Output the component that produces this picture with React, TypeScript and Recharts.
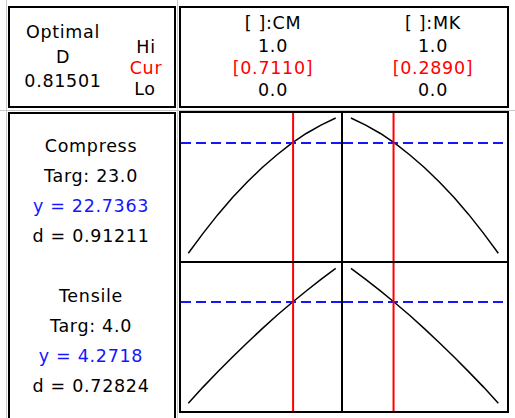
import { LineChart, Line, XAxis, YAxis, ReferenceLine } from 'recharts';

// optimizer settings
const factorNames = ['[ ]:CM', '[ ]:MK'];
const factorHigh = [1.0, 1.0];
const factorCurrent = [0.711, 0.289];
const factorLow = [0.0, 0.0];

const responseNames = ['Compress', 'Tensile'];
const responseTargets = [23.0, 4.0];
const responsePredicted = [22.7363, 4.2718];
const responseDesirability = [0.91211, 0.72824];
const compositeD = 0.81501;

// mixture levels along each factor axis
const mixLevels = [0, 0.1, 0.2, 0.3, 0.4, 0.5, 0.6, 0.7, 0.8, 0.9, 1.0];

// response traces
const compressCM = [17.2, 18.2, 19.14, 20.0, 20.78, 21.5, 22.14, 22.72, 23.22, 23.64, 24.0];
const compressMK = [24.0, 23.64, 23.22, 22.72, 22.14, 21.5, 20.78, 20.0, 19.14, 18.2, 17.2];
const tensileCM = [2.08, 2.43, 2.76, 3.08, 3.39, 3.69, 3.98, 4.25, 4.51, 4.76, 5.0];
const tensileMK = [5.0, 4.76, 4.51, 4.25, 3.98, 3.69, 3.39, 3.08, 2.76, 2.43, 2.08];

const BLUE = '#1515ff';
const RED = '#ff0000';
const FONT = '"DejaVu Sans", Verdana, sans-serif';

const toRows = (ys: number[]) => mixLevels.map((x, i) => ({ x, y: ys[i] }));

function Panel({ left, top, width, height, ys, xDomain, yDomain, cur, pred }: any) {
  return (
    <div style={{ position: 'absolute', left, top, width, height }}>
      <LineChart width={width} height={height} data={toRows(ys)} margin={{ top: 0, right: 0, bottom: 0, left: 0 }}>
        <XAxis type="number" dataKey="x" domain={xDomain} hide allowDataOverflow />
        <YAxis type="number" domain={yDomain} hide allowDataOverflow />
        <Line dataKey="y" stroke="#000" strokeWidth={1.5} dot={false} isAnimationActive={false} />
        <ReferenceLine y={pred} stroke={BLUE} strokeWidth={2} strokeDasharray="10 5" />
        <ReferenceLine x={cur} stroke={RED} strokeWidth={2} />
      </LineChart>
    </div>
  );
}

function Txt({ x, y, color = '#000', children }: any) {
  return (
    <div
      style={{
        position: 'absolute', left: x, top: y + 2, transform: 'translate(-50%, -50%)',
        whiteSpace: 'nowrap', color, fontFamily: FONT, fontSize: 17.5, letterSpacing: 0.7, lineHeight: 1,
      }}
    >
      {children}
    </div>
  );
}

const box = (left: number, top: number, width: number, height: number, extra: any = {}) => ({
  position: 'absolute' as const, left, top, width, height, border: '2px solid #000', boxSizing: 'border-box' as const, ...extra,
});

const line = (left: number, top: number, width: number, height: number, bg: string) => ({
  position: 'absolute' as const, left, top, width, height, background: bg,
});

export default function App() {
  const xL = [-0.0495, 1.036];
  const xR = [-0.054, 1.059];
  const yC = [16.81, 24.25];
  const yT = [1.913, 5.115];
  return (
    <div style={{ position: 'absolute', left: 0, top: 0, width: 515, height: 418, background: '#fff', overflow: 'hidden' }}>
      {/* faint window separators */}
      <div style={line(6, 0, 1, 418, '#c8c8c8')} />
      <div style={line(177, 0, 1, 418, '#c8c8c8')} />
      <div style={line(0, 110, 515, 1, '#c8c8c8')} />

      <div style={box(8, 6, 168, 102, { background: '#fff' })} />
      <div style={box(179, 6, 330, 102, { background: '#fff' })} />
      <div style={box(8, 112, 168, 320, { background: '#fff' })} />

      {/* optimal D */}
      <Txt x={63} y={31}>Optimal</Txt>
      <Txt x={63} y={56}>D</Txt>
      <Txt x={63} y={80}>{compositeD.toFixed(5)}</Txt>
      <Txt x={146} y={46}>Hi</Txt>
      <Txt x={146} y={67} color={RED}>Cur</Txt>
      <Txt x={145} y={88}>Lo</Txt>

      {/* factor header */}
      {factorNames.map((f, i) => {
        const cx = i === 0 ? 273 : 433;
        return (
          <div key={f}>
            <Txt x={cx} y={22}>{f}</Txt>
            <Txt x={cx} y={45}>{factorHigh[i].toFixed(1)}</Txt>
            <Txt x={cx} y={67} color={RED}>[{factorCurrent[i].toFixed(4)}]</Txt>
            <Txt x={cx} y={89}>{factorLow[i].toFixed(1)}</Txt>
          </div>
        );
      })}

      {/* response summary */}
      {responseNames.map((r, i) => {
        const y0 = i === 0 ? 145 : 295;
        return (
          <div key={r}>
            <Txt x={91} y={y0}>{r}</Txt>
            <Txt x={91} y={y0 + 30}>Targ: {responseTargets[i].toFixed(1)}</Txt>
            <Txt x={91} y={y0 + 60} color={BLUE}>y = {responsePredicted[i].toFixed(4)}</Txt>
            <Txt x={91} y={y0 + 90}>d = {responseDesirability[i].toFixed(5)}</Txt>
          </div>
        );
      })}

      {/* plot grid */}
      <div style={line(179, 111, 330, 302, '#fff')} />
      <Panel left={181} top={113} width={160} height={148} ys={compressCM} xDomain={xL} yDomain={yC} cur={factorCurrent[0]} pred={responsePredicted[0]} />
      <Panel left={343} top={113} width={164} height={148} ys={compressMK} xDomain={xR} yDomain={yC} cur={factorCurrent[1]} pred={responsePredicted[0]} />
      <Panel left={181} top={263} width={160} height={148} ys={tensileCM} xDomain={xL} yDomain={yT} cur={factorCurrent[0]} pred={responsePredicted[1]} />
      <Panel left={343} top={263} width={164} height={148} ys={tensileMK} xDomain={xR} yDomain={yT} cur={factorCurrent[1]} pred={responsePredicted[1]} />
      <div style={box(179, 111, 330, 302)} />
      <div style={line(341, 113, 2, 298, '#000')} />
      <div style={line(181, 261, 326, 2, '#000')} />
    </div>
  );
}
